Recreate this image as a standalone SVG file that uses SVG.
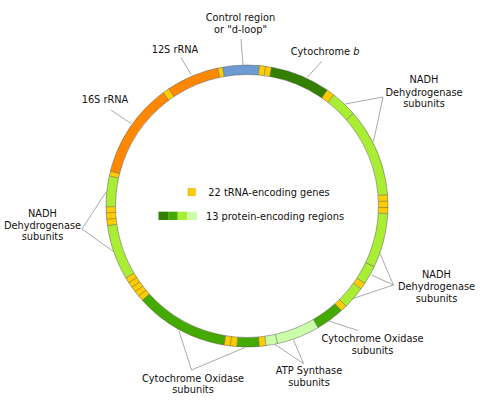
<svg xmlns="http://www.w3.org/2000/svg" width="489" height="404" viewBox="0 0 489 404">
<style>
text{font-family:"DejaVu Sans","Liberation Sans",sans-serif;font-size:9.8px;fill:#111}
.m{text-anchor:middle}
.seg{fill:none;stroke-width:9.5}
.bl{stroke:#6b9bd0}.y{stroke:#ffcc00}.dk{stroke:#338000}.md{stroke:#44aa00}.lt{stroke:#aaee33}.pl{stroke:#ccffaa}.or{stroke:#ff8800}
.div line{stroke:#5a5a5a;stroke-width:0.5}
.edge{fill:none;stroke:#5a5a5a;stroke-width:0.5}
#leaders line{stroke:#707070;stroke-width:0.6}
</style>
<rect width="489" height="404" fill="#fff"/>
<g id="ring">
<g transform="translate(247 206) rotate(-90)">
<circle class="seg bl" r="136.25" pathLength="360" stroke-dasharray="15 345" stroke-dashoffset="10"/>
<circle class="seg y" r="136.25" pathLength="360" stroke-dasharray="2.5 357.5" stroke-dashoffset="-5"/>
<circle class="seg y" r="136.25" pathLength="360" stroke-dasharray="2.5 357.5" stroke-dashoffset="-7.5"/>
<circle class="seg dk" r="136.25" pathLength="360" stroke-dasharray="24.7 335.3" stroke-dashoffset="-10"/>
<circle class="seg y" r="136.25" pathLength="360" stroke-dasharray="3.3 356.7" stroke-dashoffset="-34.7"/>
<circle class="seg lt" r="136.25" pathLength="360" stroke-dasharray="11 349" stroke-dashoffset="-38"/>
<circle class="seg lt" r="136.25" pathLength="360" stroke-dasharray="36.4 323.6" stroke-dashoffset="-49"/>
<circle class="seg y" r="136.25" pathLength="360" stroke-dasharray="7.7 352.3" stroke-dashoffset="-85.4"/>
<circle class="seg lt" r="136.25" pathLength="360" stroke-dasharray="22.4 337.6" stroke-dashoffset="-93.1"/>
<circle class="seg lt" r="136.25" pathLength="360" stroke-dasharray="7.8 352.2" stroke-dashoffset="-115.5"/>
<circle class="seg y" r="136.25" pathLength="360" stroke-dasharray="2.7 357.3" stroke-dashoffset="-123.3"/>
<circle class="seg lt" r="136.25" pathLength="360" stroke-dasharray="9.3 350.7" stroke-dashoffset="-126"/>
<circle class="seg y" r="136.25" pathLength="360" stroke-dasharray="2.7 357.3" stroke-dashoffset="-135.3"/>
<circle class="seg md" r="136.25" pathLength="360" stroke-dasharray="11.7 348.3" stroke-dashoffset="-138"/>
<circle class="seg pl" r="136.25" pathLength="360" stroke-dasharray="22.5 337.5" stroke-dashoffset="-149.7"/>
<circle class="seg y" r="136.25" pathLength="360" stroke-dasharray="2.8 357.2" stroke-dashoffset="-172.2"/>
<circle class="seg md" r="136.25" pathLength="360" stroke-dasharray="9.1 350.9" stroke-dashoffset="-175"/>
<circle class="seg y" r="136.25" pathLength="360" stroke-dasharray="5.3 354.7" stroke-dashoffset="-184.1"/>
<circle class="seg md" r="136.25" pathLength="360" stroke-dasharray="38.6 321.4" stroke-dashoffset="-189.4"/>
<circle class="seg y" r="136.25" pathLength="360" stroke-dasharray="11.3 348.7" stroke-dashoffset="-228"/>
<circle class="seg lt" r="136.25" pathLength="360" stroke-dasharray="22.7 337.3" stroke-dashoffset="-239.3"/>
<circle class="seg y" r="136.25" pathLength="360" stroke-dasharray="7.7 352.3" stroke-dashoffset="-262"/>
<circle class="seg lt" r="136.25" pathLength="360" stroke-dasharray="12.6 347.4" stroke-dashoffset="-269.7"/>
<circle class="seg y" r="136.25" pathLength="360" stroke-dasharray="2 358" stroke-dashoffset="-282.3"/>
<circle class="seg or" r="136.25" pathLength="360" stroke-dasharray="39.2 320.8" stroke-dashoffset="-284.3"/>
<circle class="seg y" r="136.25" pathLength="360" stroke-dasharray="2.8 357.2" stroke-dashoffset="-323.5"/>
<circle class="seg or" r="136.25" pathLength="360" stroke-dasharray="21.7 338.3" stroke-dashoffset="-326.3"/>
<circle class="seg y" r="136.25" pathLength="360" stroke-dasharray="2 358" stroke-dashoffset="-348"/>
</g>
<g transform="translate(247 206)">
<circle class="edge" r="141"/>
<circle class="edge" r="131.5"/>
<g class="div">
<line y1="-131.5" y2="-141" transform="rotate(-10)"/>
<line y1="-131.5" y2="-141" transform="rotate(5)"/>
<line y1="-131.5" y2="-141" transform="rotate(7.5)"/>
<line y1="-131.5" y2="-141" transform="rotate(10)"/>
<line y1="-131.5" y2="-141" transform="rotate(34.7)"/>
<line y1="-131.5" y2="-141" transform="rotate(38)"/>
<line y1="-131.5" y2="-141" transform="rotate(49)"/>
<line y1="-131.5" y2="-141" transform="rotate(85.4)"/>
<line y1="-131.5" y2="-141" transform="rotate(88)"/>
<line y1="-131.5" y2="-141" transform="rotate(90.6)"/>
<line y1="-131.5" y2="-141" transform="rotate(93.1)"/>
<line y1="-131.5" y2="-141" transform="rotate(115.5)"/>
<line y1="-131.5" y2="-141" transform="rotate(123.3)"/>
<line y1="-131.5" y2="-141" transform="rotate(126)"/>
<line y1="-131.5" y2="-141" transform="rotate(135.3)"/>
<line y1="-131.5" y2="-141" transform="rotate(138)"/>
<line y1="-131.5" y2="-141" transform="rotate(149.7)"/>
<line y1="-131.5" y2="-141" transform="rotate(167.5)"/>
<line y1="-131.5" y2="-141" transform="rotate(172.2)"/>
<line y1="-131.5" y2="-141" transform="rotate(175)"/>
<line y1="-131.5" y2="-141" transform="rotate(184.1)"/>
<line y1="-131.5" y2="-141" transform="rotate(186.8)"/>
<line y1="-131.5" y2="-141" transform="rotate(189.4)"/>
<line y1="-131.5" y2="-141" transform="rotate(228)"/>
<line y1="-131.5" y2="-141" transform="rotate(230.26)"/>
<line y1="-131.5" y2="-141" transform="rotate(232.52)"/>
<line y1="-131.5" y2="-141" transform="rotate(234.78)"/>
<line y1="-131.5" y2="-141" transform="rotate(237.04)"/>
<line y1="-131.5" y2="-141" transform="rotate(239.3)"/>
<line y1="-131.5" y2="-141" transform="rotate(262)"/>
<line y1="-131.5" y2="-141" transform="rotate(264.6)"/>
<line y1="-131.5" y2="-141" transform="rotate(267.2)"/>
<line y1="-131.5" y2="-141" transform="rotate(269.7)"/>
<line y1="-131.5" y2="-141" transform="rotate(282.3)"/>
<line y1="-131.5" y2="-141" transform="rotate(284.3)"/>
<line y1="-131.5" y2="-141" transform="rotate(323.5)"/>
<line y1="-131.5" y2="-141" transform="rotate(326.3)"/>
<line y1="-131.5" y2="-141" transform="rotate(348)"/>
</g>
</g>
</g>
<g id="leaders">
<line x1="241" y1="39" x2="243" y2="65"/>
<line x1="181" y1="57.5" x2="191" y2="74.5"/>
<line x1="322" y1="61" x2="307.5" y2="77"/>
<line x1="111" y1="110" x2="131" y2="123.5"/>
<line x1="383" y1="97" x2="345" y2="104"/>
<line x1="383" y1="97" x2="373.5" y2="141.5"/>
<line x1="393.5" y1="285" x2="380" y2="253.5"/>
<line x1="393.5" y1="285" x2="371.5" y2="275"/>
<line x1="393.5" y1="285" x2="353" y2="298.5"/>
<line x1="327" y1="320.5" x2="358" y2="330.5"/>
<line x1="303.5" y1="363.5" x2="275" y2="344.5"/>
<line x1="303.5" y1="363.5" x2="293.5" y2="340"/>
<line x1="191.5" y1="370" x2="179" y2="331"/>
<line x1="191.5" y1="370" x2="245" y2="347.5"/>
<line x1="82" y1="229" x2="106" y2="192"/>
<line x1="82" y1="229" x2="113.5" y2="251.5"/>
</g>
<g id="label-control"><text class="m" x="240.5" y="20.5">Control region</text><text class="m" x="240.5" y="32.5">or "d-loop"</text></g>
<g id="label-12s"><text class="m" x="175" y="53">12S rRNA</text></g>
<g id="label-cytb"><text x="290.7" y="54.5">Cytochrome <tspan font-style="italic">b</tspan></text></g>
<g id="label-16s"><text class="m" x="105" y="103">16S rRNA</text></g>
<g id="label-nadh-rt"><text class="m" x="424" y="83">NADH</text><text class="m" x="424" y="95.5">Dehydrogenase</text><text class="m" x="424" y="107">subunits</text></g>
<g id="label-nadh-rb"><text class="m" x="436.5" y="277.5">NADH</text><text class="m" x="436.5" y="289.5">Dehydrogenase</text><text class="m" x="436.5" y="301.5">subunits</text></g>
<g id="label-nadh-l"><text class="m" x="42.5" y="216.5">NADH</text><text class="m" x="42.5" y="228.5">Dehydrogenase</text><text class="m" x="42.5" y="240">subunits</text></g>
<g id="label-co-r"><text class="m" x="372.5" y="341.5">Cytochrome Oxidase</text><text class="m" x="372.5" y="353.5">subunits</text></g>
<g id="label-atp"><text class="m" x="309" y="374">ATP Synthase</text><text class="m" x="309" y="385.5">subunits</text></g>
<g id="label-co-l"><text class="m" x="193" y="381.5">Cytochrome Oxidase</text><text class="m" x="193" y="393">subunits</text></g>
<g id="legend">
<rect x="188" y="188.5" width="7.3" height="7.3" fill="#ffcc00" stroke="#d4aa00" stroke-width="0.5"/>
<text x="208.3" y="195.7">22 tRNA-encoding genes</text>
<rect x="158.5" y="211.7" width="9.6" height="8.3" fill="#338000"/>
<rect x="168.1" y="211.7" width="9.6" height="8.3" fill="#44aa00"/>
<rect x="177.7" y="211.7" width="9.6" height="8.3" fill="#aaee33"/>
<rect x="187.3" y="211.7" width="9.6" height="8.3" fill="#ccffaa"/>
<text x="206" y="219.5">13 protein-encoding regions</text>
</g>
</svg>
